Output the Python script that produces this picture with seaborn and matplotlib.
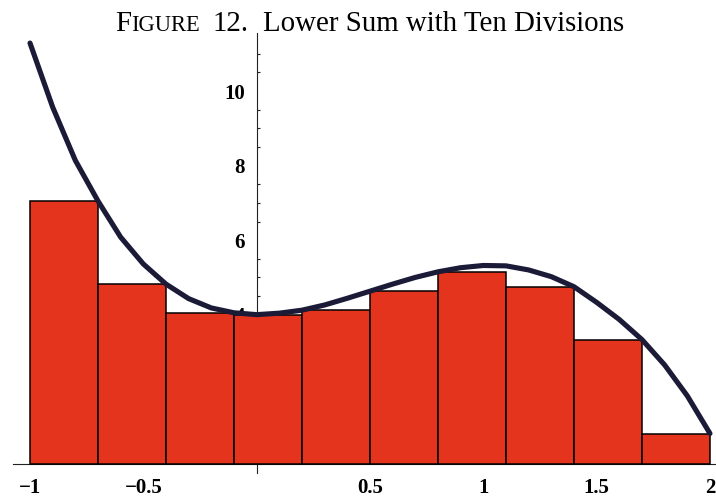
import numpy as np
import pandas as pd
import matplotlib
matplotlib.use("Agg")
import matplotlib.pyplot as plt
import seaborn as sns

# ---------------- data ----------------
division_left = [-1.0, -0.7, -0.4, -0.1, 0.2, 0.5, 0.8, 1.1, 1.4, 1.7]
division_width = 0.3
lower_heights = [7.05, 4.82, 4.05, 3.99, 4.12, 4.63, 5.15, 4.75, 3.33, 0.81]

curve_x = [-1.0, -0.9, -0.8, -0.7, -0.6, -0.5, -0.4, -0.3, -0.2, -0.1, 0.0,
           0.1, 0.2, 0.3, 0.4, 0.5, 0.6, 0.7, 0.8, 0.9, 1.0,
           1.1, 1.2, 1.3, 1.4, 1.5, 1.6, 1.7, 1.8, 1.9, 2.0]
curve_y = [11.29, 9.57, 8.14, 7.05, 6.08, 5.36, 4.82, 4.43, 4.18, 4.05, 4.00,
           4.04, 4.12, 4.26, 4.44, 4.63, 4.82, 5.00, 5.15, 5.26, 5.32,
           5.31, 5.20, 5.02, 4.75, 4.33, 3.87, 3.33, 2.65, 1.82, 0.81]

x_tick_values = [-1, -0.5, 0.5, 1, 1.5, 2]
x_tick_labels = ["\u22121", "\u22120.5", "0.5", "1", "1.5", "2"]
y_tick_values = [2, 4, 6, 8, 10]
y_tick_labels = ["2", "4", "6", "8", "10"]
y_minor_values = [v / 2 for v in range(1, 23) if v % 4 != 0]

title_fig = "F"
title_fig_caps = "IGURE"
title_num = "12."
title_text = "Lower Sum with Ten Divisions"

# ---------------- style ----------------
sns.set_theme(style="white")
plt.rcParams["font.family"] = ["Liberation Serif", "DejaVu Serif"]
plt.rcParams["text.color"] = "black"

BAR_COLOR = "#e5341d"
CURVE_COLOR = "#1b1b38"

W, H = 716, 497
fig = plt.figure(figsize=(W / 100, H / 100), dpi=100)
fig.patch.set_facecolor("white")
ax = fig.add_axes([13 / W, 24 / H, 704 / W, 440 / H])
ax.set_facecolor("white")

df = pd.DataFrame({
    "center": [l + division_width / 2 for l in division_left],
    "height": lower_heights,
})
sns.barplot(data=df, x="center", y="height", native_scale=True, width=1.0,
            color=BAR_COLOR, saturation=1, edgecolor="black", linewidth=1.1,
            errorbar=None, ax=ax, zorder=2)

sns.lineplot(x=curve_x, y=curve_y, sort=False, estimator=None, color=CURVE_COLOR,
             linewidth=3.7, ax=ax, zorder=4, solid_capstyle="round",
             solid_joinstyle="round")

ax.set_xlim(-1.075, 2.031)
ax.set_ylim(-0.25, 11.56)
ax.set_xlabel("")
ax.set_ylabel("")

for side in ["top", "right"]:
    ax.spines[side].set_visible(False)
ax.spines["left"].set_position(("data", 0))
ax.spines["bottom"].set_position(("data", 0))
for side in ["left", "bottom"]:
    ax.spines[side].set_linewidth(0.8)
    ax.spines[side].set_color("#222222")
    ax.spines[side].set_zorder(0.5)
ax.set_axisbelow(True)

ax.set_xticks(x_tick_values)
ax.set_xticklabels(x_tick_labels)
ax.set_yticks(y_tick_values)
ax.set_yticklabels(y_tick_labels)
ax.set_yticks(y_minor_values, minor=True)

ax.tick_params(axis="x", which="major", direction="in", length=3, width=0.8,
               pad=10, labelsize=15, colors="#222222", labelcolor="black")
ax.tick_params(axis="y", which="major", direction="in", length=3.5, width=0.8,
               pad=8.5, labelsize=15, colors="#222222", labelcolor="black")
ax.tick_params(axis="y", which="minor", direction="in", length=2.5, width=0.8,
               colors="#222222", left=True)
for lab in ax.get_xticklabels() + ax.get_yticklabels():
    lab.set_fontweight("bold")
    lab.set_family(["Liberation Serif", "DejaVu Serif"])
ax.grid(False)

# ---------------- title with small caps ----------------
renderer = fig.canvas.get_renderer()
base_size = 18.0
probe = fig.text(0, 0, title_text, fontsize=base_size, family="Liberation Serif")
probe_w = probe.get_window_extent(renderer).width
probe.remove()
S = base_size * 362.0 / probe_w
S = min(S, 21.5)

baseline = 1 - 30.7 / H
t1 = fig.text(115 / W, baseline, title_fig, fontsize=S, family="Liberation Serif",
              va="baseline", ha="left", color="black")
w1 = t1.get_window_extent(renderer).width
fig.text((115 + w1 + 0.5) / W, baseline, title_fig_caps, fontsize=S * 0.78,
         family="Liberation Serif", va="baseline", ha="left", color="black")
fig.text(213 / W, baseline, title_num, fontsize=S, family="Liberation Serif",
         va="baseline", ha="left", color="black")
fig.text(263 / W, baseline, title_text, fontsize=S, family="Liberation Serif",
         va="baseline", ha="left", color="black")

fig.savefig("out.png", dpi=100)
